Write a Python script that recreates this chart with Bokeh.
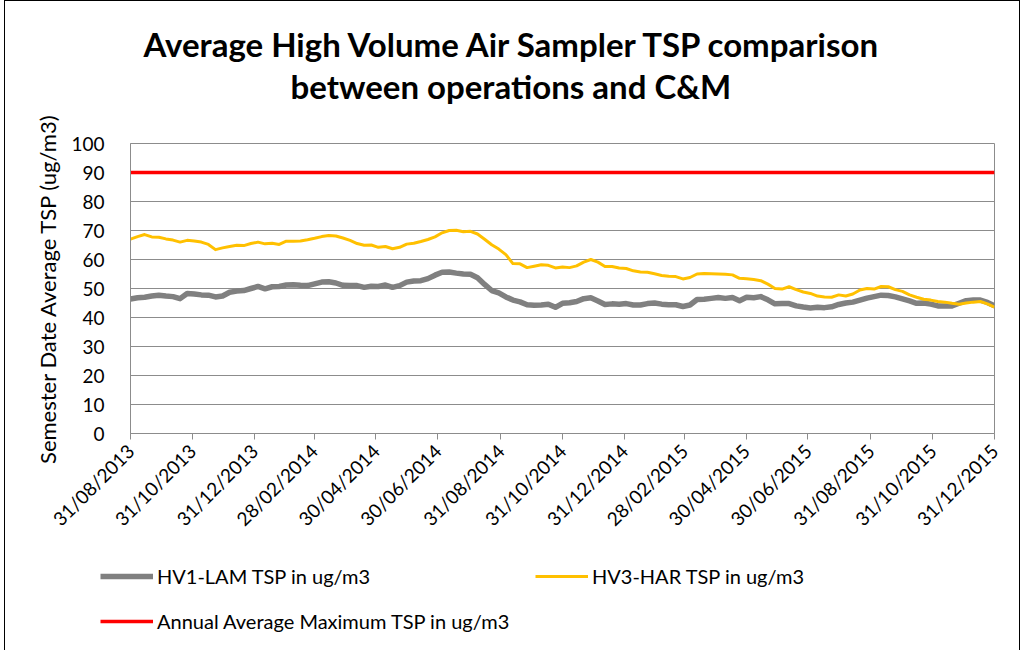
import pandas as pd
from bokeh.plotting import figure
from bokeh.layouts import column
from bokeh.models import (FixedTicker, DatetimeTickFormatter, Legend, LegendItem,
                          Title, Range1d)
from bokeh.embed import file_html
from bokeh.resources import INLINE

# ---------------- data ----------------
start_date = "2013-08-31"
end_date = "2015-12-31"

tick_dates = ["2013-08-31", "2013-10-31", "2013-12-31", "2014-02-28", "2014-04-30",
              "2014-06-30", "2014-08-31", "2014-10-31", "2014-12-31", "2015-02-28",
              "2015-04-30", "2015-06-30", "2015-08-31", "2015-10-31", "2015-12-31"]

y_ticks = [0, 10, 20, 30, 40, 50, 60, 70, 80, 90, 100]

hv1_lam = [46.4, 46.8, 47.0, 47.4, 47.7, 47.4, 47.2, 46.5, 48.3, 48.1, 47.8, 47.7, 47.1,
           47.4, 48.7, 49.1, 49.3, 50.0, 50.7, 49.9, 50.6, 50.7, 51.2, 51.3, 51.1,
           51.0, 51.6, 52.2, 52.3, 51.9, 51.1, 51.0, 51.0, 50.4, 50.8, 50.7, 51.2, 50.4,
           51.0, 52.2, 52.6, 52.7, 53.4, 54.6, 55.6, 55.7, 55.3, 55.0, 54.9,
           53.7, 51.4, 49.3, 48.5, 47.1, 46.0, 45.4, 44.4, 44.2, 44.3, 44.6, 43.5, 44.9,
           45.1, 45.5, 46.5, 46.8, 45.7, 44.5, 44.7, 44.6, 44.8, 44.3, 44.3, 44.8,
           45.0, 44.6, 44.4, 44.4, 43.8, 44.3, 46.2, 46.3, 46.6, 46.9, 46.6, 46.9, 45.8,
           47.0, 46.8, 47.2, 46.1, 44.7, 44.8, 44.8, 44.0, 43.6, 43.3, 43.5, 43.4,
           43.7, 44.5, 45.0, 45.3, 46.0, 46.7, 47.2, 47.7, 47.6, 47.1, 46.4, 45.7, 44.9,
           45.0, 44.6, 44.0, 44.0, 44.0, 44.9, 45.8, 46.0, 46.0, 45.2, 44.0]

hv3_har = [67.0, 67.9, 68.6, 67.8, 67.7, 67.1, 66.7, 66.0, 66.6, 66.4, 66.0, 65.2, 63.4,
           64.0, 64.5, 64.9, 64.8, 65.5, 66.0, 65.4, 65.6, 65.2, 66.3, 66.3, 66.4,
           66.8, 67.3, 67.9, 68.3, 68.1, 67.4, 66.6, 65.5, 64.9, 65.0, 64.2, 64.5, 63.7,
           64.2, 65.3, 65.6, 66.2, 66.9, 67.8, 69.2, 70.0, 70.1, 69.6, 69.7,
           68.8, 67.0, 65.1, 63.6, 61.7, 58.6, 58.5, 57.2, 57.7, 58.2, 58.0, 57.1, 57.4,
           57.2, 57.8, 59.1, 60.0, 59.1, 57.6, 57.6, 57.1, 56.9, 56.1, 55.7, 55.6,
           55.1, 54.5, 54.2, 54.1, 53.3, 53.8, 55.0, 55.2, 55.1, 55.0, 54.9, 54.7, 53.5,
           53.4, 53.1, 52.7, 51.5, 50.0, 49.8, 50.6, 49.6, 48.8, 48.3, 47.4, 47.1,
           47.0, 47.8, 47.4, 48.1, 49.5, 50.0, 49.8, 50.7, 50.6, 49.6, 49.0, 47.8, 47.0,
           46.3, 46.0, 45.5, 45.3, 44.9, 44.6, 45.0, 45.3, 45.5, 44.7, 43.6]

limit_dates = [start_date, end_date]
limit_values = [90, 90]

series_labels = ["HV1-LAM TSP in ug/m3", "HV3-HAR TSP in ug/m3",
                 "Annual Average Maximum TSP in ug/m3"]
title_lines = ["Average High Volume Air Sampler TSP comparison",
               "between operations and C&M"]
y_label = "Semester Date Average TSP (ug/m3)"

# ---------------- styles ----------------
FONT = "Lato"
GRAY = "#808080"
YELLOW = "#FFC000"
RED = "#FF0000"
AXIS_GRAY = "#8c8c8c"
W = 1014

dates = pd.date_range(start_date, end_date, periods=len(hv1_lam))
limit_x = [pd.Timestamp(d) for d in limit_dates]

# ---------------- main chart ----------------
p = figure(x_axis_type="datetime", output_backend="svg", toolbar_location=None,
           frame_width=864, frame_height=290,
           min_border_left=125, min_border_right=W - 125 - 864, min_border_top=142,
           min_border_bottom=100,
           x_range=Range1d(pd.Timestamp(start_date), pd.Timestamp(end_date)),
           y_range=Range1d(0, 100))
p.background_fill_color = "white"
p.border_fill_color = "white"
p.outline_line_color = AXIS_GRAY
p.outline_line_width = 1

# titles: spacer nearest the plot, then line 2, then line 1
spacer = Title(text=" ", text_font=FONT, text_font_size="10px", standoff=24)
t2 = Title(text=title_lines[1], align="left", offset=160, text_font=FONT,
           text_font_size="33px", text_font_style="bold", text_color="black", standoff=0)
t1 = Title(text=title_lines[0], align="left", offset=13, text_font=FONT,
           text_font_size="33px", text_font_style="bold", text_color="black", standoff=0)
p.add_layout(spacer, "above")
p.add_layout(t2, "above")
p.add_layout(t1, "above")

p.xgrid.visible = False
p.ygrid.grid_line_color = AXIS_GRAY
p.ygrid.grid_line_width = 1

p.yaxis.ticker = FixedTicker(ticks=y_ticks)
p.yaxis.axis_line_color = AXIS_GRAY
p.yaxis.major_tick_line_color = None
p.yaxis.minor_tick_line_color = None
p.yaxis.major_label_text_font = FONT
p.yaxis.major_label_text_font_size = "19px"
p.yaxis.major_label_text_color = "black"
p.yaxis.major_label_standoff = 20
p.yaxis.axis_label = y_label
p.yaxis.axis_label_text_font = FONT
p.yaxis.axis_label_text_font_size = "22px"
p.yaxis.axis_label_text_font_style = "normal"
p.yaxis.axis_label_text_color = "black"
p.yaxis.axis_label_standoff = 7

tick_ms = [pd.Timestamp(d).timestamp() * 1000 for d in tick_dates]
p.xaxis.ticker = FixedTicker(ticks=tick_ms)
fmt = "%d/%m/%Y"
p.xaxis.formatter = DatetimeTickFormatter(
    microseconds=fmt, milliseconds=fmt, seconds=fmt, minsec=fmt, minutes=fmt,
    hourmin=fmt, hours=fmt, days=fmt, months=fmt, years=fmt)
p.xaxis.axis_line_color = AXIS_GRAY
p.xaxis.major_tick_line_color = AXIS_GRAY
p.xaxis.major_tick_out = 6
p.xaxis.major_tick_in = 0
p.xaxis.minor_tick_line_color = None
p.xaxis.major_label_orientation = 0.785398
p.xaxis.major_label_text_font = FONT
p.xaxis.major_label_text_font_size = "19px"
p.xaxis.major_label_text_color = "black"
p.xaxis.major_label_standoff = 8

p.line(dates, hv1_lam, line_color=GRAY, line_width=5.5, line_join="round")
p.line(dates, hv3_har, line_color=YELLOW, line_width=3, line_join="round")
p.line(limit_x, limit_values, line_color=RED, line_width=3.5)

# ---------------- legend strip (below the chart) ----------------
LH = 115
q = figure(output_backend="svg", toolbar_location=None, width=W, height=LH,
           min_border=0, x_axis_location=None, y_axis_location=None,
           x_range=Range1d(0, 1), y_range=Range1d(0, 1))
if "frame_align" in q.properties():
    q.frame_align = False
    p.frame_align = False
    LEG_X = 95
else:
    LEG_X = 0
q.outline_line_color = None
q.xgrid.visible = False
q.ygrid.visible = False
q.background_fill_color = "white"
q.border_fill_color = "white"
# same series drawn here (outside the visible range) so the legend keys carry their styles
lg_gray = q.line(dates, hv1_lam, line_color=GRAY, line_width=5.5)
lg_yel = q.line(dates, hv3_har, line_color=YELLOW, line_width=3)
lg_red = q.line(limit_x, limit_values, line_color=RED, line_width=3.5)

def make_legend(items, loc):
    return Legend(items=items, location=loc, orientation="horizontal",
                  border_line_alpha=0, background_fill_alpha=0, padding=0, margin=0,
                  spacing=0, glyph_width=53, glyph_height=20, label_height=20,
                  label_standoff=4, label_width=378,
                  label_text_font=FONT, label_text_font_size="20px",
                  label_text_color="black", label_text_baseline="middle")

leg1 = make_legend([LegendItem(label=series_labels[0], renderers=[lg_gray]),
                    LegendItem(label=series_labels[1], renderers=[lg_yel])], (LEG_X, 68))
leg2 = make_legend([LegendItem(label=series_labels[2], renderers=[lg_red])], (LEG_X, 23))
q.add_layout(leg1)
q.add_layout(leg2)

layout = column(p, q, spacing=0,
                styles={"border-left": "1px solid black", "border-top": "1px solid black",
                        "border-right": "1px solid black", "margin-left": "4px"})

open("out.html", "w").write(file_html(layout, INLINE))
